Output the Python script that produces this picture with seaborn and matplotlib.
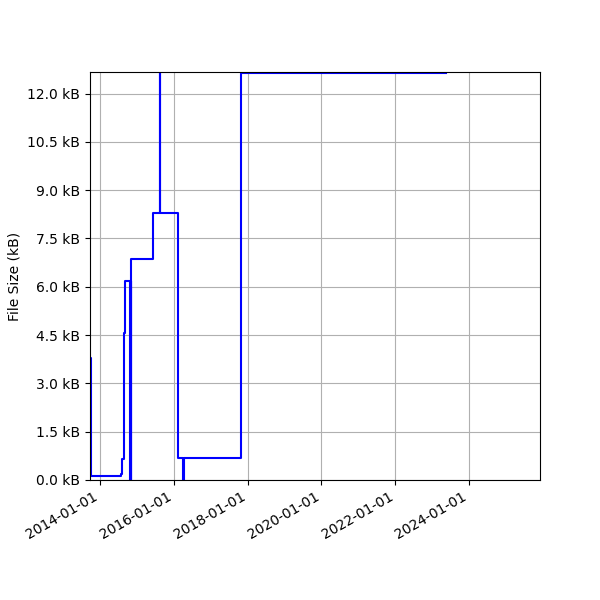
import pandas as pd
import matplotlib
matplotlib.use("Agg")
import matplotlib.pyplot as plt
import matplotlib.dates as mdates
from matplotlib.ticker import MultipleLocator, FuncFormatter
import seaborn as sns

# File size history (kB)
dates = [
    "2013-09-26", "2013-10-03", "2014-07-27", "2014-08-08", "2014-08-28",
    "2014-09-04", "2014-10-26", "2014-11-01", "2014-11-03", "2014-11-10",
    "2015-06-10", "2015-08-17", "2015-08-24", "2016-02-14", "2016-03-31",
    "2016-04-08", "2017-10-27", "2023-05-18",
]
sizes_kb = [
    3.78, 0.13, 0.20, 0.65, 4.55,
    6.18, 0.0, 6.18, 0.0, 6.87,
    8.29, 40.0, 8.29, 0.67, 0.0,
    0.67, 12.65, 12.65,
]

df = pd.DataFrame({"Date": pd.to_datetime(dates), "Size": sizes_kb})

fig, ax = plt.subplots(figsize=(6, 6), dpi=100)
sns.lineplot(data=df, x="Date", y="Size", ax=ax, color="blue",
             drawstyle="steps-post", estimator=None, sort=False, linewidth=1.5)

ax.set_xlim(pd.Timestamp("2013-09-26"), pd.Timestamp("2025-12-01"))
ax.set_ylim(0, 12.67)
ax.yaxis.set_major_locator(MultipleLocator(1.5))
ax.yaxis.set_major_formatter(FuncFormatter(lambda v, p: f"{v:.1f} kB"))
ax.xaxis.set_major_locator(mdates.YearLocator(2))
ax.xaxis.set_major_formatter(mdates.DateFormatter("%Y-%m-%d"))
ax.set_xlabel("")
ax.set_ylabel("File Size (kB)")
ax.grid(True)
fig.autofmt_xdate()
fig.subplots_adjust(left=0.15, right=0.9, top=0.88, bottom=0.2)

plt.savefig("out.png", dpi=100)
